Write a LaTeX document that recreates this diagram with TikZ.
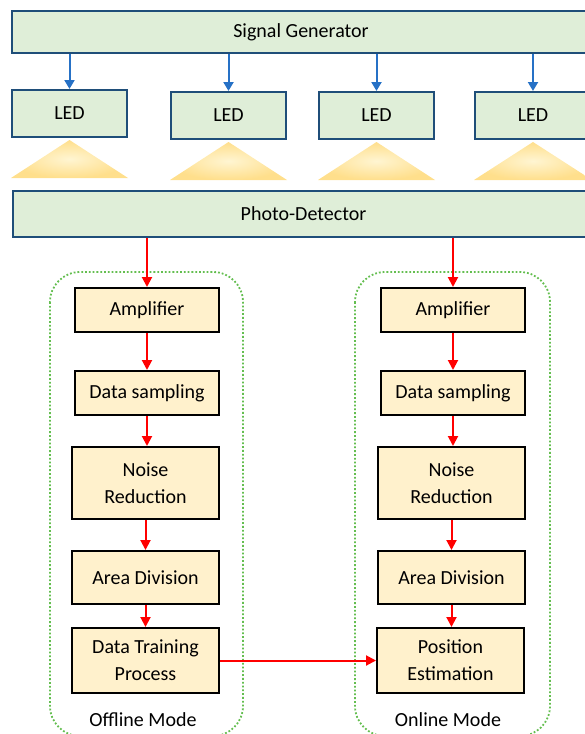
\documentclass[tikz,border=0pt]{standalone}
\usepackage{fontspec}
\setmainfont{Carlito}
\usetikzlibrary{arrows.meta}
\definecolor{gfill}{RGB}{223,238,216}
\definecolor{gborder}{RGB}{31,78,121}
\definecolor{barrow}{RGB}{38,113,198}
\definecolor{pfill}{RGB}{255,241,204}
\definecolor{dotg}{RGB}{100,190,80}
\definecolor{lightout}{RGB}{255,223,140}
\definecolor{lightin}{RGB}{255,245,210}
\begin{document}
\begin{tikzpicture}[x=1pt,y=-1pt,
 gbox/.style={draw=gborder,line width=2pt,fill=gfill,inner sep=0pt,font=\fontsize{20}{24}\selectfont},
 pbox/.style={draw=black,line width=2pt,fill=pfill,inner sep=0pt,align=center,font=\fontsize{20}{27}\selectfont},
 barr/.style={draw=barrow,line width=2pt,-{Triangle[length=9pt,width=10pt]}},
 rarr/.style={draw=red,line width=2pt,-{Triangle[length=10pt,width=10pt]}},
 modebox/.style={draw=dotg,line width=1.8pt,dotted,rounded corners=30pt},
 lbl/.style={font=\fontsize{20}{24}\selectfont},
 lightcone/.style={inner color=lightin,outer color=lightout}]
\useasboundingbox (0,0) rectangle (584,734);

% mode boxes
\draw[modebox] (50,272) rectangle (243,736);
\draw[modebox] (355,272) rectangle (550,736);
\node[lbl] (offl) at (143,720) {Offline Mode};
\node[lbl] (onl) at (448,720) {Online Mode};

% top section
\node[gbox,minimum width=578pt,minimum height=42pt] (sg) at (301,32) {Signal Generator};
\node[gbox,minimum width=115pt,minimum height=47pt] (led1) at (69.5,113.5) {LED};
\node[gbox,minimum width=115pt,minimum height=47pt] (led2) at (228.5,115.5) {LED};
\node[gbox,minimum width=115pt,minimum height=47pt] (led3) at (376.5,115.5) {LED};
\node[gbox,minimum width=116pt,minimum height=47pt] (led4) at (533,115.5) {LED};
\node[gbox,minimum width=581pt,minimum height=46pt] (pd) at (303.5,214) {Photo-Detector};

\foreach \l in {led1,led2,led3,led4}{
  \shade[lightcone] ([yshift=-2pt]\l.south) -- ([yshift=-40pt]\l.south east) -- ([yshift=-40pt]\l.south west) -- cycle;
  \draw[barr] (sg.south -| \l.north) -- (\l.north);
}

% offline column
\node[pbox,minimum width=144pt,minimum height=44pt] (amp1) at (147,310) {Amplifier};
\node[pbox,minimum width=144pt,minimum height=44pt] (ds1) at (147,393) {Data sampling};
\node[pbox,minimum width=147pt,minimum height=72pt] (nr1) at (145.5,483) {Noise\\Reduction};
\node[pbox,minimum width=147pt,minimum height=53pt] (ad1) at (145.5,577.5) {Area Division};
\node[pbox,minimum width=147pt,minimum height=65pt] (dt1) at (145.5,660.5) {Data Training\\Process};

% online column
\node[pbox,minimum width=144pt,minimum height=44pt] (amp2) at (453,310) {Amplifier};
\node[pbox,minimum width=144pt,minimum height=44pt] (ds2) at (453,393) {Data sampling};
\node[pbox,minimum width=147pt,minimum height=72pt] (nr2) at (451.5,483) {Noise\\Reduction};
\node[pbox,minimum width=147pt,minimum height=53pt] (ad2) at (451.5,577.5) {Area Division};
\node[pbox,minimum width=147pt,minimum height=65pt] (pe) at (450.5,660.5) {Position\\Estimation};

% red arrows
\draw[rarr] (pd.south -| amp1.north) -- (amp1.north);
\draw[rarr] (pd.south -| amp2.north) -- (amp2.north);
\draw[rarr] (amp1.south) -- (amp1.south |- ds1.north);
\draw[rarr] (ds1.south) -- (ds1.south |- nr1.north);
\draw[rarr] (nr1.south) -- (nr1.south |- ad1.north);
\draw[rarr] (ad1.south) -- (ad1.south |- dt1.north);
\draw[rarr] (amp2.south) -- (amp2.south |- ds2.north);
\draw[rarr] (ds2.south) -- (ds2.south |- nr2.north);
\draw[rarr] (nr2.south) -- (nr2.south |- ad2.north);
\draw[rarr] (ad2.south) -- (ad2.south |- pe.north);
\draw[rarr] (dt1.east) -- (pe.west);
\end{tikzpicture}
\end{document}
